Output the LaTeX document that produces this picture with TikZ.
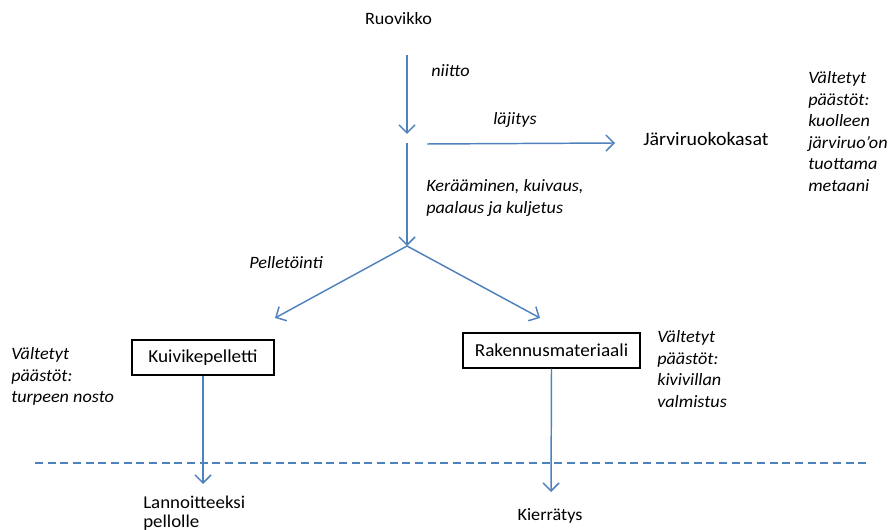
\documentclass[tikz,border=0pt]{standalone}
\usepackage{fontspec}
\setmainfont{Carlito}[FakeStretch=1.05]
\usetikzlibrary{arrows.meta}
\definecolor{flow}{HTML}{4F81BD}
\tikzset{
  txt/.style={inner sep=0pt, font=\fontsize{13}{16.1}\selectfont},
  itxt/.style={inner sep=0pt, font=\fontsize{13}{16.1}\selectfont\itshape, align=left},
  boxnode/.style={draw=black, line width=1.1pt, minimum height=26.25pt, inner xsep=0pt, font=\fontsize{13.7}{16}\selectfont},
  flowline/.style={draw=flow, line width=1.1pt},
  flowarrow/.style={flowline, -{Straight Barb[length=6pt,width=12pt,line width=1.1pt]}},
}
\begin{document}
\begin{tikzpicture}[x=0.75pt,y=-0.75pt]
\useasboundingbox (0,0) rectangle (889,530);
% texts
\node[txt, anchor=base] (ruovikko) at (398.5,25) {Ruovikko};
\node[itxt, anchor=base west] (niitto) at (431,77) {niitto};
\node[itxt, anchor=base west] (lajitys) at (493,125) {läjitys};
\node[txt, anchor=base west, font=\fontsize{14.2}{16}\selectfont] (jarvi) at (643,146) {Järviruokokasat};
\node[itxt, anchor=north west] (valt1) at (808,71.7) {Vältetyt\\päästöt:\\kuolleen\\järviruo’on\\tuottama\\metaani};
\node[itxt, anchor=north west] (keraa) at (426,179.7) {Kerääminen, kuivaus,\\paalaus ja kuljetus};
\node[itxt, anchor=base west] (pellet) at (249,269) {Pelletöinti};
\node[boxnode, minimum width=106.5pt] (kuivike) at (203,357.5) {Kuivikepelletti};
\node[boxnode, minimum width=132.75pt] (rakennus) at (551.5,350.5) {Rakennusmateriaali};
\node[itxt, anchor=north west] (valt2) at (11,347.7) {Vältetyt\\päästöt:\\turpeen nosto};
\node[itxt, anchor=north west] (valt3) at (657,330.7) {Vältetyt\\päästöt:\\kivivillan\\valmistus};
\node[txt, anchor=north west, align=left, font=\fontsize{13.5}{14.2}\selectfont] (lannoite) at (143,495.7) {Lannoitteeksi\\pellolle};
\node[txt, anchor=base] (kierratys) at (550,521) {Kierrätys};
% coordinates
\coordinate (a1s) at (407,55);
\coordinate (a1e) at (407,134);
\coordinate (a2s) at (407,143);
\coordinate (split) at (407,246);
\coordinate (hs) at (427,144);
\coordinate (he) at (615,143);
\coordinate (leftend) at (275,318);
\coordinate (rightend) at (540,318);
\coordinate (lend) at (203,484);
\coordinate (rend) at (551,492);
\coordinate (dl) at (35,463);
\coordinate (dr) at (868,463);
% connectors
\draw[flowarrow] (a1s) -- (a1e);
\draw[flowarrow] (a2s) -- (split);
\draw[flowarrow] (hs) -- (he);
\draw[flowarrow] (split) -- (leftend);
\draw[flowarrow] (split) -- (rightend);
\draw[flowarrow] (kuivike.south) -- (lend);
\draw[flowarrow] (rakennus.south) -- (rend);
\draw[flowline, dash pattern=on 6pt off 3.5pt] (dl) -- (dr);
\end{tikzpicture}
\end{document}
